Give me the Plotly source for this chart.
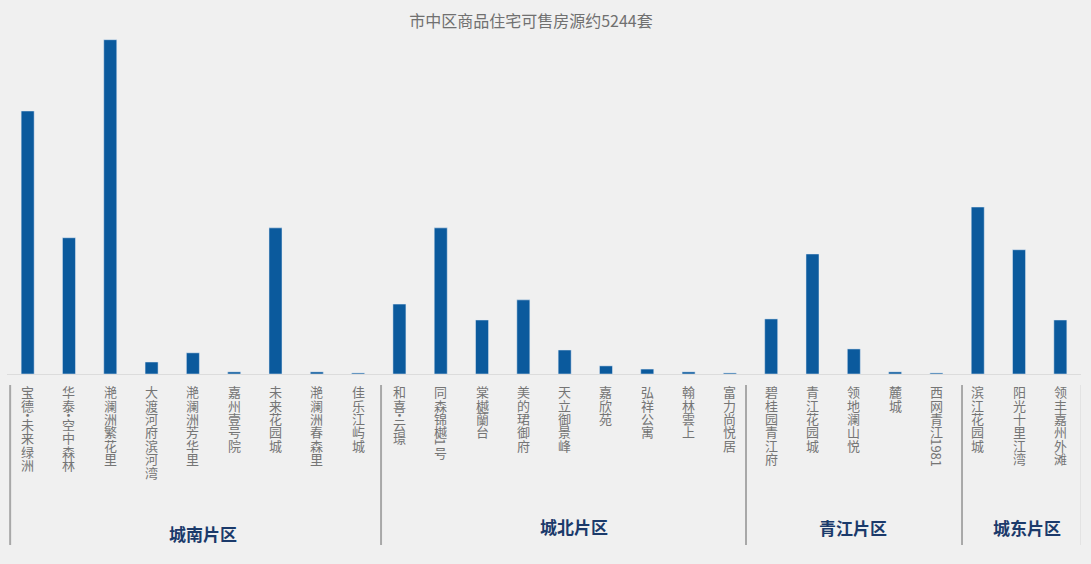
import plotly.graph_objects as go

categories = ["宝德·未来绿洲", "华泰·空中森林", "滟澜洲繁花里", "大渡河府滨河湾", "滟澜洲芳华里",
              "嘉州壹号院", "未来花园城", "滟澜洲春森里", "佳乐江屿城",
              "和喜·云璟", "同森锦樾1号", "棠樾蘭台", "美的珺御府", "天立御景峰",
              "嘉欣苑", "弘祥公寓", "翰林雲上", "富力尚悦居",
              "碧桂园青江府", "青江花园城", "领地澜山悦", "麓城", "西网青江1981",
              "滨江花园城", "阳光十里江湾", "领丰嘉州外滩"]
values = [745, 386, 947, 34, 60, 6, 414, 6, 3,
          198, 414, 153, 210, 68, 23, 14, 6, 3,
          156, 340, 71, 6, 3,
          473, 352, 153]
groups = ["城南片区", "城北片区", "青江片区", "城东片区"]
group_pos = [4.25, 13.23, 19.98, 24.2]
group_shift = [159, 152, 153, 153]
separators = [-0.424, 8.555, 17.39, 22.62, 25.52]
title = "市中区商品住宅可售房源约5244套"

BAR = "#0b5a9d"
LABEL = "#757575"
GROUPC = "#1b3a6b"
FONT = "Noto Sans CJK SC"

fig = go.Figure(go.Bar(
    x=list(range(len(categories))), y=values, marker_color=BAR, width=0.315,
    hovertext=categories, hoverinfo="text+y"))

annotations = []
for i, name in enumerate(categories):
    cursor = 11.0
    j = 0
    while j < len(name):
        ch = name[j]
        if ch.isascii() and ch.isalnum():
            k = j
            while k < len(name) and name[k].isascii() and name[k].isalnum():
                k += 1
            run = name[j:k]
            adv = 7.0 * len(run)
            annotations.append(dict(x=i, y=0, xref="x", yref="paper", text=run, showarrow=False,
                                    textangle=90, yanchor="middle", xanchor="center",
                                    yshift=-(cursor + adv / 2), font=dict(size=13, color=LABEL, family=FONT)))
            cursor += adv
            j = k
            continue
        adv = 6.0 if ch == "·" else 13.4
        annotations.append(dict(x=i, y=0, xref="x", yref="paper", text=ch, showarrow=False,
                                yanchor="middle", xanchor="center",
                                yshift=-(cursor + adv / 2), font=dict(size=13, color=LABEL, family=FONT)))
        cursor += adv
        j += 1

for g, p, s in zip(groups, group_pos, group_shift):
    annotations.append(dict(x=p, y=0, xref="x", yref="paper", text="<b>" + g + "</b>", showarrow=False,
                            yanchor="middle", xanchor="center", yshift=-s,
                            font=dict(size=17, color=GROUPC, family=FONT)))

shapes = [dict(type="line", xref="x", yref="paper", x0=s, x1=s, y0=-0.0312, y1=-0.4844,
               line=dict(color="#a8a8a8", width=2)) for s in separators]

fig.update_layout(
    width=1091, height=564,
    margin=dict(l=7, r=10, t=21, b=190),
    paper_bgcolor="#f0f0f0", plot_bgcolor="#f0f0f0",
    showlegend=False,
    title=dict(text=title, x=531 / 1091, xanchor="center", xref="container",
               y=1 - 21 / 564, yanchor="middle", yref="container",
               font=dict(size=16, color="#707070", family=FONT)),
    xaxis=dict(range=[-0.5, 25.5], showticklabels=False, showgrid=False, zeroline=False,
               showline=True, linecolor="#dcdcdc", linewidth=1, ticks=""),
    yaxis=dict(range=[0, 1000], visible=False, showgrid=False),
    annotations=annotations, shapes=shapes,
    font=dict(family=FONT),
)

fig.write_html("out.html")
